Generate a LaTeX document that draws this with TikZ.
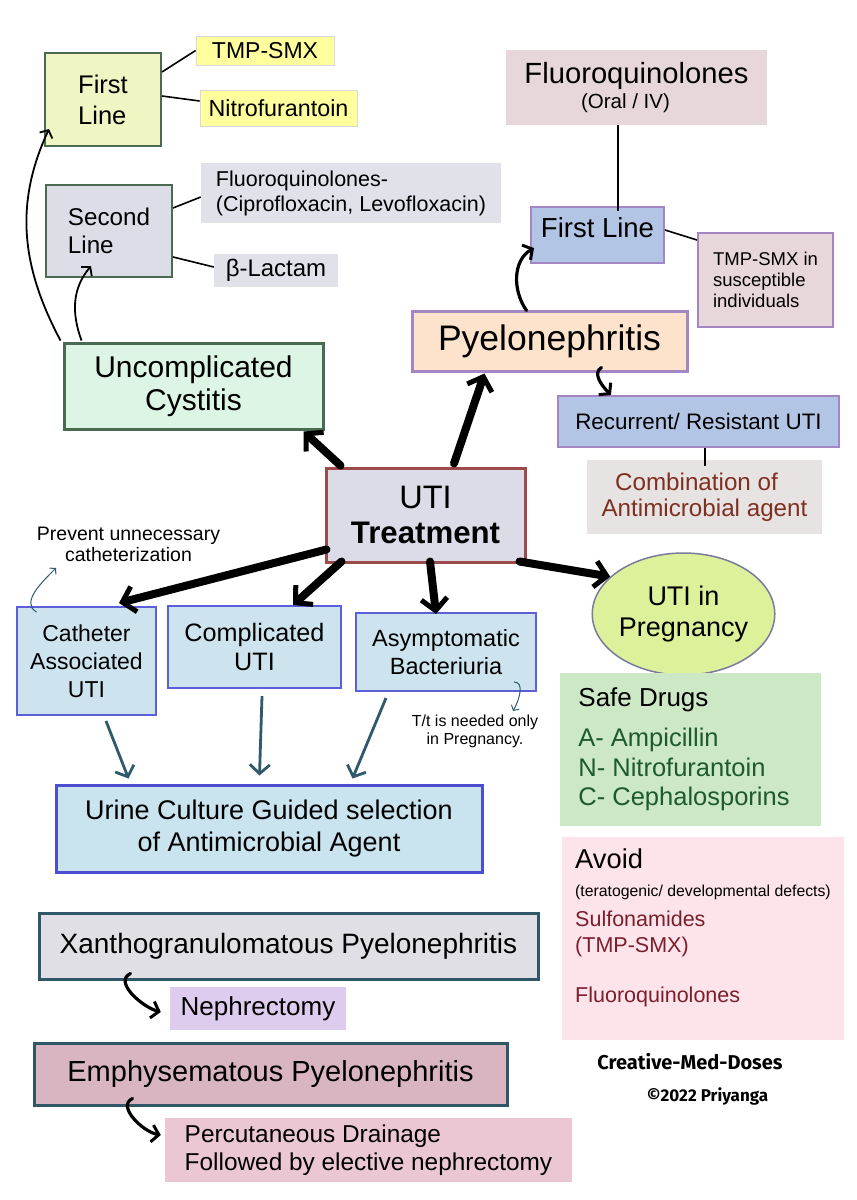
\documentclass[tikz,border=0pt]{standalone}
\usepackage{fontspec}
\setmainfont{Liberation Sans}
\newfontfamily\brandfont{Fira Sans}
\usepackage{xcolor}
\usepackage{tikz}
\usetikzlibrary{arrows.meta,shapes.geometric,calc}
\definecolor{utifirst}{HTML}{F1F5C4}
\definecolor{utiyellow}{HTML}{FFFF9E}
\definecolor{utigreendk}{HTML}{4A6B52}
\definecolor{utisecond}{HTML}{DDDDE7}
\definecolor{utilav}{HTML}{E1E1EA}
\definecolor{utimint}{HTML}{DCF5E4}
\definecolor{utirose}{HTML}{E8D7DA}
\definecolor{utiperi}{HTML}{B3C5E5}
\definecolor{utipurple}{HTML}{A586C4}
\definecolor{utipeach}{HTML}{FDE3CC}
\definecolor{utigray}{HTML}{E7E3E3}
\definecolor{utibrown}{HTML}{7E3020}
\definecolor{utitreat}{HTML}{DCDCE9}
\definecolor{utimaroon}{HTML}{9C4A4A}
\definecolor{utilime}{HTML}{DDF19B}
\definecolor{utislate}{HTML}{7A7A9C}
\definecolor{utisafe}{HTML}{CCE8C5}
\definecolor{utigreentx}{HTML}{1D5A2E}
\definecolor{utiavoid}{HTML}{FCE4EA}
\definecolor{utiwine}{HTML}{7A1E2C}
\definecolor{utisky}{HTML}{CDE4EF}
\definecolor{utiblue}{HTML}{5D5ED9}
\definecolor{utisky2}{HTML}{C9E3EF}
\definecolor{utiblue2}{HTML}{4D4ECF}
\definecolor{utiteal}{HTML}{2F5767}
\definecolor{utixan}{HTML}{E0DFE5}
\definecolor{utililac}{HTML}{DDCCEE}
\definecolor{utiemph}{HTML}{D8B5C1}
\definecolor{utipink}{HTML}{EAC7D3}
\definecolor{utitealarr}{HTML}{2E5A6B}
\newcommand{\fsz}[2]{\fontsize{#1}{#2}\selectfont}
\tikzset{
  panel/.style={rectangle, inner sep=0pt, align=center, text=black},
  stepone/.style={panel, fill=utifirst, draw=utigreendk, line width=2pt},
  drug/.style={panel, fill=utiyellow, draw=black!15, line width=0.8pt},
  steptwo/.style={panel, fill=utisecond, draw=utigreendk, line width=2pt},
  note/.style={panel, fill=utilav},
  cystbox/.style={panel, fill=utimint, draw=utigreendk, line width=3pt},
  rosebox/.style={panel, fill=utirose},
  peribox/.style={panel, fill=utiperi, draw=utipurple, line width=2pt},
  pyelobox/.style={panel, fill=utipeach, draw=utipurple, line width=3pt},
  treatbox/.style={panel, fill=utitreat, draw=utimaroon, line width=3pt},
  pregbox/.style={ellipse, inner sep=0pt, align=center, fill=utilime, draw=utislate, line width=1.5pt},
  typebox/.style={panel, fill=utisky, draw=utiblue, line width=2pt},
  culturebox/.style={panel, fill=utisky2, draw=utiblue2, line width=3pt},
  variantbox/.style={panel, draw=utiteal, line width=3pt},
  plain/.style={inner sep=0pt, align=center},
  bigarrow/.style={-{Straight Barb[length=12pt,width=26pt,line width=5pt]}, line width=8pt, line cap=round},
  hookarrow/.style={-{Straight Barb[length=7pt,width=17pt,line width=3pt]}, line width=3.2pt, line cap=round},
  thinarrow/.style={-{Straight Barb[length=6pt,width=14pt]}, line width=1.8pt},
  flowarrow/.style={-{Straight Barb[length=9pt,width=20pt]}, line width=2.8pt, draw=utitealarr},
  notearrow/.style={-{Straight Barb[length=4pt,width=9pt]}, line width=1pt, draw=utitealarr},
  link/.style={line width=1.6pt}
}

\begin{document}
\begin{tikzpicture}[x=1pt, y=-1pt]
  \fill[white] (0,0) rectangle (857,1200);
  \useasboundingbox (0,0) rectangle (857,1200);

  \node[stepone, align=left, minimum width=116, minimum height=93, font=\fsz{25.5}{31}] (firstA) at (103,99.5) {First\\Line};
  \node[drug, minimum width=138, minimum height=29, font=\fsz{23}{26}] (tmpA) at (265,50.5) {TMP-SMX};
  \node[drug, minimum width=157, minimum height=36, font=\fsz{23.3}{26}] (nitro) at (278.5,108) {Nitrofurantoin};
  \node[steptwo, align=left, minimum width=126, minimum height=92, font=\fsz{24.2}{28}] (secondA) at (109,231) {Second\\Line};
  \node[note, align=left, minimum width=300, minimum height=60, font=\fsz{21.5}{25}] (fqA) at (351,193) {Fluoroquinolones-\\(Ciprofloxacin, Levofloxacin)};
  \node[note, minimum width=124, minimum height=33, font=\fsz{24}{27}] (beta) at (276,270.5) {β-Lactam};
  \node[cystbox, minimum width=259, minimum height=86, font=\fsz{30}{33}] (cyst) at (193.5,386) {Uncomplicated\\Cystitis};
  \node[rosebox, minimum width=261, minimum height=75, font=\fsz{29.2}{25}] (fqB) at (636.5,87.5) {Fluoroquinolones\\{\fsz{20.5}{25}(Oral / IV)\hspace*{22pt}}};
  \node[peribox, minimum width=133, minimum height=56, font=\fsz{27.5}{30}] (firstB) at (597.5,235) {First Line\rule[-14pt]{0pt}{14pt}};
  \node[rosebox, draw=utipurple, line width=2pt, align=left, minimum width=135, minimum height=94, font=\fsz{18.5}{21}] (tmpB) at (765.5,280) {TMP-SMX in\\susceptible\\individuals};
  \node[pyelobox, minimum width=275, minimum height=60, font=\fsz{35.5}{38}] (pyelo) at (549.5,341) {Pyelonephritis};
  \node[peribox, minimum width=281, minimum height=51, font=\fsz{22.4}{25}] (recur) at (698.5,421.5) {Recurrent/ Resistant UTI};
  \node[panel, fill=utigray, text=utibrown, minimum width=235, minimum height=74, font=\fsz{24.2}{26}] (combo) at (704.5,497) {Combination of\hspace*{16pt}\\Antimicrobial agent};
  \node[treatbox, minimum width=199, minimum height=94, font=\fsz{32.5}{35}] (treat) at (425.5,515) {UTI\\{\fsz{31.2}{35}\bfseries Treatment}};
  \node[pregbox, minimum width=157, minimum height=122, font=\fsz{27}{31}] (preg) at (683.5,614) {UTI in\\Pregnancy};
  \node[panel, fill=utisafe, text=utigreentx, align=left, minimum width=261, minimum height=153, font=\fsz{25.5}{29.5}] (safe) at (690.5,749.5) {\textcolor{black}{\fsz{26}{29}Safe Drugs}\\[10.5pt]A- Ampicillin\\N- Nitrofurantoin\\C- Cephalosporins\hspace*{13pt}};
  \node[panel, fill=utiavoid, text=utiwine, align=left, minimum width=282, minimum height=203, font=\fsz{21.5}{26}] (avoid) at (703,938.5) {\textcolor{black}{\fsz{27.3}{30}Avoid}\\[2pt]\textcolor{black}{\fsz{15.8}{18}(teratogenic/ developmental defects)}\\[4pt]Sulfonamides\\(TMP-SMX)\\[24pt]Fluoroquinolones\rule[-25pt]{0pt}{25pt}};
  \node[plain, font=\fsz{19.5}{21}] (prevent) at (128.5,544) {Prevent unnecessary\\catheterization};
  \node[typebox, minimum width=139, minimum height=108, font=\fsz{23}{28}] (cath) at (86.5,661) {Catheter\\Associated\\UTI};
  \node[typebox, minimum width=173, minimum height=82, font=\fsz{25.2}{29}] (compl) at (254.5,647) {Complicated\\UTI};
  \node[typebox, minimum width=180, minimum height=78, font=\fsz{23.5}{28}] (asym) at (446,652) {Asymptomatic\\Bacteriuria};
  \node[plain, font=\fsz{16}{18}] (ttnote) at (475,731) {T/t is needed only\\in Pregnancy.};
  \node[culturebox, minimum width=426, minimum height=87, font=\fsz{27}{32}] (urine) at (269,828.5) {Urine Culture Guided selection\\of Antimicrobial Agent};
  \node[variantbox, fill=utixan, minimum width=499, minimum height=66, font=\fsz{28}{32}] (xantho) at (288.5,946) {Xanthogranulomatous Pyelonephritis};
  \node[panel, fill=utililac, minimum width=176, minimum height=43, font=\fsz{26}{29}] (nephro) at (258,1008.5) {Nephrectomy};
  \node[variantbox, fill=utiemph, minimum width=473, minimum height=62, font=\fsz{29}{32}] (emphy) at (270.5,1074) {Emphysematous Pyelonephritis};
  \node[panel, fill=utipink, align=left, minimum width=407, minimum height=64, font=\fsz{24.4}{28}] (percut) at (368.5,1150) {Percutaneous Drainage\\Followed by elective nephrectomy};
  \node[plain, font=\brandfont\bfseries\fsz{20}{24}] (brand) at (690,1062) {Creative-Med-Doses};
  \node[plain, font=\brandfont\bfseries\fsz{17}{20}] (signature) at (707.5,1096) {©2022 Priyanga};

  \draw[link] ($(firstA.north east)+(0,20)$) -- (tmpA.west);
  \draw[link] ($(firstA.north east)+(0,44)$) -- ($(nitro.west)+(0,-7)$);
  \draw[link] ($(secondA.north east)+(0,24)$) -- ($(fqA.west)+(0,4)$);
  \draw[link] ($(secondA.south east)+(0,-21)$) -- ($(beta.west)+(0,-3.5)$);
  \draw[link] ($(fqB.south)+(-18.5,0)$) -- ($(firstB.north)+(20.5,5)$);
  \draw[link] ($(firstB.north east)+(0,24)$) -- ($(tmpB.north west)+(0,8)$);
  \draw[link] ($(recur.south)+(6.5,0)$) -- ($(combo.north)+(0.5,6)$);

  \draw[bigarrow] ($(treat.north west)+(16,-1)$) -- ($(cyst.south east)+(-21,1)$);
  \draw[bigarrow] ($(treat.north)+(28.5,-3)$) -- ($(pyelo.south west)+(74,1)$);
  \draw[bigarrow] ($(treat.south west)+(2,-14)$) -- ($(cath.north east)+(-38,-3)$);
  \draw[bigarrow] ($(treat.south west)+(17,-2)$) -- ($(compl.north)+(38.5,0)$);
  \draw[bigarrow] ($(treat.south)+(4.5,-2)$) -- ($(asym.north)+(-10,2)$);
  \draw[bigarrow] ($(treat.south east)+(-7,-2)$) -- (preg.153);

  \draw[thinarrow] ($(cyst.north west)+(-2,-1)$) to[out=118, in=245] ($(firstA.south west)+(5,-18)$);
  \draw[thinarrow] ($(cyst.north west)+(19,-1)$) to[out=110, in=230] ($(secondA.south west)+(46,-12)$);
  \draw[hookarrow] ($(pyelo.north west)+(116,1)$) to[out=125, in=210] ($(firstB.south west)+(4,-16)$);
  \draw[hookarrow] ($(pyelo.south west)+(191,-5)$) to[out=210, in=135] ($(recur.north west)+(54,0)$);
  \draw[hookarrow] ($(xantho.south west)+(93,-7)$) to[out=205, in=165] ($(nephro.west)+(-9,3.5)$);
  \draw[hookarrow] ($(emphy.south west)+(100,-8)$) to[out=205, in=170] ($(percut.west)+(-4,-15)$);

  \draw[flowarrow] ($(cath.south)+(19.5,5)$) -- ($(urine.north west)+(74,-5)$);
  \draw[flowarrow] ($(compl.south)+(7.5,7)$) -- ($(urine.north west)+(205,-8)$);
  \draw[flowarrow] ($(asym.south)+(-60,6)$) -- ($(urine.north west)+(298,-5)$);

  \draw[notearrow] ($(cath.north west)+(20.5,6)$) to[out=150, in=225] ($(cath.north west)+(40,-38)$);
  \draw[notearrow] ($(asym.south east)+(-23,-10)$) to[out=0, in=60] ($(asym.south east)+(-24,19)$);
\end{tikzpicture}
\end{document}
